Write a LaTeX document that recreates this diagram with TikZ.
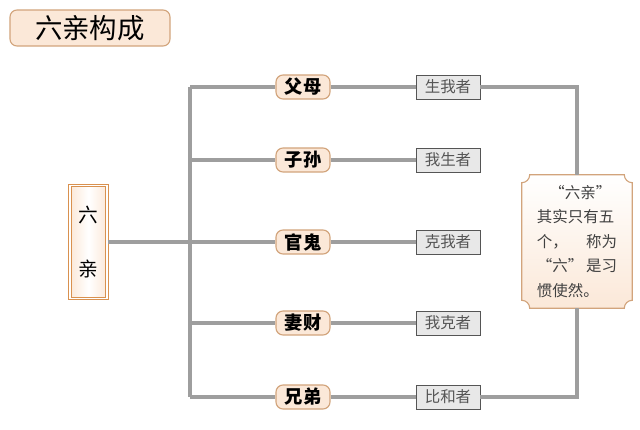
\documentclass[tikz,border=0pt]{standalone}
\usepackage{fontspec}
\newfontfamily\cjk{Noto Sans CJK SC}
\usetikzlibrary{backgrounds}
\definecolor{peach}{HTML}{FBE8D8}
\definecolor{boxedge}{HTML}{D2A47C}
\definecolor{orangeedge}{HTML}{D9914F}
\definecolor{lineg}{HTML}{9E9E9E}
\definecolor{greyfill}{HTML}{E8E8E8}
\definecolor{darkedge}{HTML}{555555}

\begin{document}
\begin{tikzpicture}
	[x=0.025cm, y=0.025cm,
	titlebox/.style={draw=boxedge, fill=peach, rounded corners=5pt, line width=0.8pt, minimum width=4cm, minimum height=0.9cm, font=\cjk\fontsize{19.5}{19.5}\selectfont},
	liubox/.style={draw=orangeedge, double=white, double distance=0.8pt, line width=0.9pt, left color=peach, right color=peach, middle color=white, minimum width=0.925cm, minimum height=2.825cm, align=center, font=\cjk\fontsize{14}{39}\selectfont},
	branch/.style={draw=boxedge, fill=peach, rounded corners=5pt, line width=0.8pt, minimum width=1.35cm, minimum height=0.6cm, inner sep=0pt, font=\cjk\bfseries\fontsize{13}{13}\selectfont},
	greybox/.style={draw=darkedge, fill=greyfill, line width=0.6pt, minimum width=1.6cm, minimum height=0.6cm, inner sep=0pt, text=darkedge, font=\cjk\fontsize{11}{11}\selectfont},
	notetext/.style={text width=2cm, minimum width=2.75cm, minimum height=3.325cm, inner sep=0pt, align=left, text=black!75, font=\cjk\fontsize{11}{17.4}\selectfont},
	notebox/.style={draw=boxedge, line width=0.8pt, top color=white, bottom color=peach},
	link/.style={draw=lineg, line width=2.4pt}]
	\useasboundingbox (0,0) rectangle (640,429);

	%title
	\node (title) [titlebox] at (90,401) {六亲构成};

	%left box
	\node (liu) [liubox] at (88.5,187) {六\\亲};

	%trunk
	\coordinate (ttop) at (190,342);
	\coordinate (tbot) at (190,32);
	\draw[link] (ttop) -- (tbot);
	\draw[link] (liu) -- (liu -| ttop);

	%branches
	\node (fumu) [branch] at (303,342) {父母};
	\node (zisun) [branch] at (303,269) {子孙};
	\node (guangui) [branch] at (303,187) {官鬼};
	\node (qicai) [branch] at (303,106) {妻财};
	\node (xiongdi) [branch] at (303,32) {兄弟};

	\node (s1) [greybox] at (448,342) {生我者};
	\node (s2) [greybox] at (448,269) {我生者};
	\node (s3) [greybox] at (448,187) {克我者};
	\node (s4) [greybox] at (448,106) {我克者};
	\node (s5) [greybox] at (448,32) {比和者};

	\draw[link] (ttop) -- (fumu) -- (s1);
	\draw[link] (zisun -| ttop) -- (zisun) -- (s2);
	\draw[link] (guangui -| ttop) -- (guangui) -- (s3);
	\draw[link] (qicai -| ttop) -- (qicai) -- (s4);
	\draw[link] (tbot) -- (xiongdi) -- (s5);

	%note
	\node (note) [notetext] at (577,187.5) {\hspace*{0.8em}“六亲”\\其实只有五\\个，\hfill 称为\\“六”\hfill 是习\\惯使然。};
	\draw[link] (s1) -| (note);
	\draw[link] (s5) -| (note);
	\begin{scope}[on background layer]
		\path[notebox] ([xshift=0.2cm]note.north west) -- ([xshift=-0.2cm]note.north east)
			arc[start angle=180, end angle=270, radius=0.2cm] -- ([yshift=0.2cm]note.south east)
			arc[start angle=90, end angle=180, radius=0.2cm] -- ([xshift=0.2cm]note.south west)
			arc[start angle=0, end angle=90, radius=0.2cm] -- ([yshift=-0.2cm]note.north west)
			arc[start angle=-90, end angle=0, radius=0.2cm] -- cycle;
	\end{scope}
\end{tikzpicture}
\end{document}
